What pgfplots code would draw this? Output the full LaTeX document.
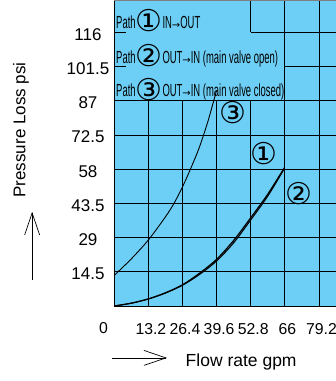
\documentclass[border=0pt]{standalone}
\usepackage{pgfplots}
\pgfplotsset{compat=1.18}
\usepackage{fontspec}
\setmainfont{Liberation Sans}
\newfontfamily\narrowfont[FakeStretch=0.54]{Liberation Sans}
\newfontfamily\symfont{DejaVu Sans}
\usetikzlibrary{arrows.meta}
\definecolor{chartblue}{RGB}{109,207,246}
\newcommand{\cnum}[1]{{\symfont\fontsize{30}{30}\selectfont #1}}
\newcommand{\lnum}[1]{\raisebox{-3.5pt}{\symfont\fontsize{30}{30}\selectfont #1}}
\newcommand{\larr}{{\symfont\fontsize{10}{10}\selectfont →}}

\begin{document}
\begin{tikzpicture}
\useasboundingbox (-114.3pt,-75pt) rectangle (221.7pt,306pt);
\begin{axis}[
    scale only axis,
    width=221.7pt, height=306pt,
    xmin=0, xmax=85.8, ymin=0, ymax=129.7,
    axis x line*=bottom, axis y line*=left,
    axis line style={black, line width=0.9pt},
    axis background/.style={fill=chartblue},
    xtick={13.2,26.4,39.6,52.8,66,79.2},
    xticklabels={13.2,26.4,39.6,52.8,66,79.2},
    ytick={14.5,29,43.5,58,72.5,87,101.5,116},
    yticklabels={14.5,29,43.5,58,72.5,87,101.5,116},
    major tick length=0pt,
    grid=major,
    grid style={black, line width=0.8pt},
    xticklabel style={font=\fontsize{15.8}{18}\selectfont, anchor=north, inner sep=0pt, yshift=-17pt, xshift=2.5pt},
    yticklabel style={font=\fontsize{17}{20}\selectfont, anchor=center, inner sep=0pt, xshift=-26.3pt, yshift=-2pt},
    clip=false,
]

% legend area: hide the grid behind the text
\fill[chartblue] (axis cs:0,87) rectangle (axis cs:52.8,129.7);
\fill[chartblue] (axis cs:52.8,87) rectangle (axis cs:66,116);
\draw[black, line width=0.8pt] (axis cs:0,87) -- (axis cs:85.8,87);
\draw[black, line width=0.8pt] (axis cs:52.8,116) -- (axis cs:52.8,129.7);
\draw[black, line width=0.8pt] (axis cs:52.8,116) -- (axis cs:85.8,116);
\draw[black, line width=0.8pt] (axis cs:66,87) -- (axis cs:66,129.7);
\draw[black, line width=0.8pt] (axis cs:0,116) -- ++(12pt,0pt);
\draw[black, line width=0.8pt] (axis cs:0,101.5) -- ++(12pt,0pt);
\draw[black, line width=0.9pt] (axis cs:0,0) -- (axis cs:0,129.7);
\draw[gray, line width=1.5pt] (axis cs:0,129.7) -- (axis cs:85.8,129.7);

% path 1
\addplot[black, line width=1.2pt, smooth] coordinates {
    (0,0) (6.6,1.2) (13.2,3.0) (19.8,5.6) (26.4,9.0) (33,13.9)
    (39.6,19.8) (46.2,27.8) (52.8,37.4) (59.4,47.4) (65.8,58.6)
};
% path 2
\addplot[black, line width=1.1pt, smooth] coordinates {
    (0,0) (6.6,1.2) (13.2,3.0) (19.8,5.5) (26.4,8.8) (33,13.4)
    (39.6,19.1) (46.2,26.8) (52.8,36.5) (59.4,46.6) (65.8,58.2)
};
% path 3
\addplot[black, line width=0.9pt, smooth] coordinates {
    (0,13.0) (6.6,20.0) (13.2,28.0) (19.8,37.8) (23.1,43.5) (26.4,50.5)
    (29.7,58.6) (33,67.5) (36.3,78.5) (39.6,91.5)
};

\node at (axis cs:45.95,81.8) {\cnum{③}};
\node at (axis cs:57.75,64.4) {\cnum{①}};
\node at (axis cs:71.3,47.5) {\cnum{②}};

\begin{scope}[every node/.style={anchor=base west, inner sep=0pt, font=\narrowfont\fontsize{17.5}{20}\selectfont}]
\node at (axis cs:0.66,117.7) {Path\lnum{①}IN\larr OUT};
\node at (axis cs:0.66,102.9) {Path\lnum{②}OUT\larr IN (main valve open)};
\node at (axis cs:0.66,88.6) {Path\lnum{③}OUT\larr IN (main valve closed)};
\end{scope}

\node[font=\fontsize{15.8}{18}\selectfont] at (axis cs:-4.18,-9.33) {0};
\node[rotate=90, font=\fontsize{17}{20}\selectfont] at (axis cs:-36.1,74.6) {Pressure Loss psi};
\node[font=\fontsize{17.5}{20}\selectfont] at (axis cs:49.1,-23.7) {Flow rate gpm};
\draw[-{Straight Barb[length=22pt,width=15pt]}, line width=0.7pt] (axis cs:-31.8,11) -- (axis cs:-31.8,39.9);
\draw[-{Straight Barb[length=22pt,width=15pt]}, line width=0.7pt] (axis cs:-0.9,-22) -- (axis cs:20.4,-22);

\end{axis}
\end{tikzpicture}
\end{document}
